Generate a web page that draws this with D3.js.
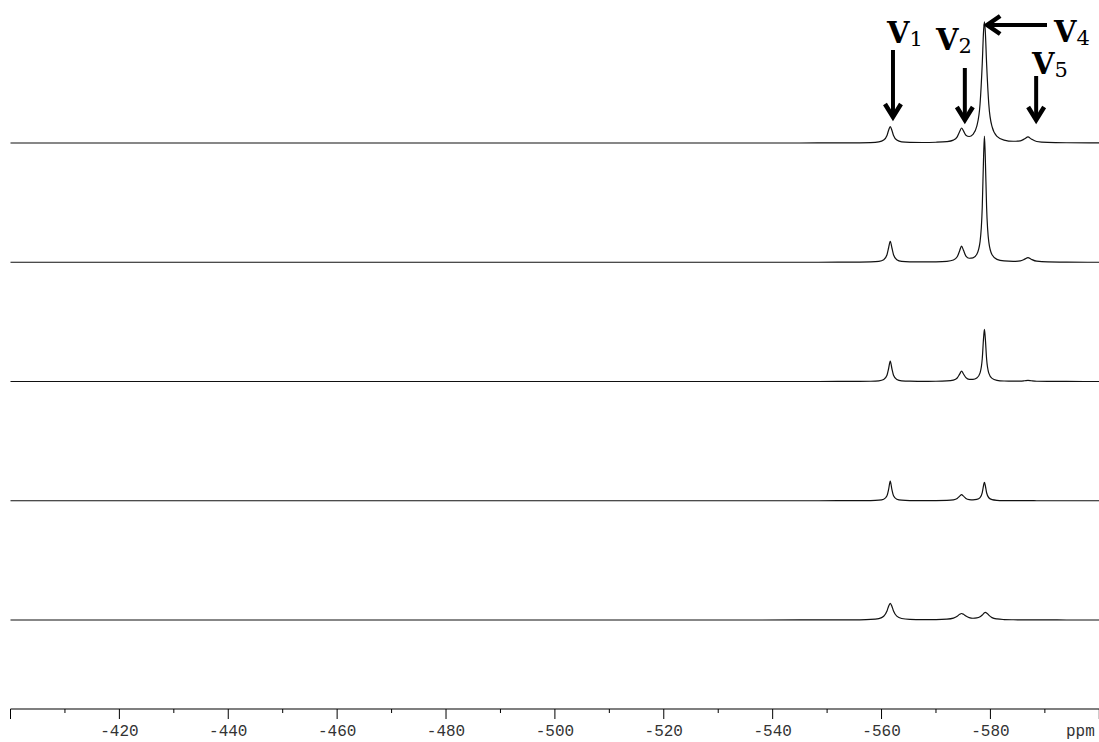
<!DOCTYPE html>
<html>
<head>
<meta charset="utf-8">
<script src="https://cdn.jsdelivr.net/npm/d3@7"></script>
<style>
    body { margin: 0; background: #fff; }
    svg { display: block; }
</style>
</head>
<body>
<svg></svg>
<script>
// chemical shift grid (ppm), shared by all spectra
const ppm = [-400, -450, -500, -530, -545, -552, -556, -558, -559.5, -560.4, -561.0, -561.3, -561.6, -561.9, -562.2, -562.8, -563.7, -565.2, -567.5, -570, -572, -573.2, -573.9, -574.35, -574.7, -575.05, -575.5, -576.1, -576.8, -577.5, -578.1, -578.5, -578.75, -578.9, -579.05, -579.3, -579.7, -580.3, -581.2, -582.5, -584.2, -585.5, -586.3, -586.9, -587.5, -588.5, -590.5, -594, -600];

// intensities, top to bottom
const spectrum1 = [0, 0, 0, 0, 0, 0.1, 0.2, 0.4, 1.1, 2.9, 7.5, 12.7, 16.5, 12.7, 7.5, 2.9, 1.1, 0.65, 0.5, 0.74, 1.4, 2.9, 6.1, 11.4, 15.0, 12.1, 7.8, 6.5, 8.7, 16.8, 39.2, 79.4, 112.9, 121.2, 112.7, 79.2, 38.9, 16.3, 6.65, 2.94, 1.73, 2.2, 4.2, 6.1, 4.0, 1.5, 0.53, 0.23, 0.1];
const spectrum2 = [0, 0, 0, 0, 0, 0.05, 0.13, 0.32, 0.92, 2.59, 7.55, 14.5, 21, 14.5, 7.55, 2.59, 0.92, 0.45, 0.33, 0.46, 0.97, 2.3, 5.5, 11.6, 16.2, 11.9, 6.2, 4.0, 4.4, 8.0, 20.7, 54.9, 106.6, 126.2, 106.4, 54.7, 20.4, 7.5, 2.9, 1.3, 0.9, 1.4, 3.1, 4.6, 3.0, 1.05, 0.3, 0.1, 0];
const spectrum3 = [0, 0, 0, 0, 0, 0.04, 0.1, 0.25, 0.71, 2.03, 6.25, 13.0, 20.3, 13.0, 6.25, 2.03, 0.71, 0.31, 0.2, 0.27, 0.56, 1.4, 3.5, 7.4, 10.4, 7.5, 3.8, 2.1, 2.05, 3.4, 8.6, 22.7, 44.1, 52.1, 43.9, 22.5, 8.4, 3.1, 1.2, 0.5, 0.3, 0.4, 0.76, 1.1, 0.73, 0.27, 0.1, 0.05, 0];
const spectrum4 = [0, 0, 0, 0, 0, 0.03, 0.08, 0.18, 0.53, 1.54, 5.0, 11.35, 19.7, 11.35, 5.0, 1.54, 0.53, 0.21, 0.13, 0.17, 0.35, 0.9, 2.25, 4.6, 6.1, 4.6, 2.35, 1.2, 0.95, 1.35, 3.1, 8.1, 15.6, 18.5, 15.5, 8.0, 3.0, 1.08, 0.42, 0.17, 0.08, 0.05, 0.04, 0.03, 0.03, 0.02, 0.01, 0, 0];
const spectrum5 = [0, 0, 0, 0, 0.03, 0.08, 0.22, 0.53, 1.46, 3.79, 9.02, 13.77, 16.7, 13.8, 9.05, 3.85, 1.52, 0.61, 0.33, 0.38, 0.8, 1.85, 3.7, 5.7, 6.5, 5.7, 3.9, 2.3, 1.77, 2.05, 3.26, 5.0, 6.43, 7.15, 7.56, 7.1, 4.87, 2.4, 1.05, 0.46, 0.23, 0.15, 0.1, 0.1, 0.08, 0.06, 0.04, 0.02, 0];

const spectra = [spectrum1, spectrum2, spectrum3, spectrum4, spectrum5];

// axis ticks (ppm)
const majorTicks = [-400, -420, -440, -460, -480, -500, -520, -540, -560, -580, -600];
const minorTicks = [-410, -430, -450, -470, -490, -510, -530, -550, -570, -590];
const labelTicks = [-420, -440, -460, -480, -500, -520, -540, -560, -580];

// peak annotations
const peakNames = ["1", "2", "4", "5"];
const peakArrowPpm = [-562.1, -575.3, -579.4, -588.4];

const width = 1099,
    height = 742;
const firstBase = 143,
    baseStep = 119.25,
    axisY = 709;

const svg = d3.select("svg").attr("width", width).attr("height", height);

const xScale = d3.scaleLinear().domain([-400, -600]).range([10.5, 1099.3]);

const drawSpectra = () => {
    spectra.forEach((values, i) => {
        const base = firstBase + i * baseStep;
        const yScale = d3.scaleLinear().domain([0, 130]).range([base, base - 130]);
        const line = d3
            .line()
            .x((d, j) => xScale(ppm[j]))
            .y((d) => yScale(d))
            .curve(d3.curveMonotoneX);
        svg.append("path")
            .datum(values)
            .attr("d", line)
            .attr("fill", "none")
            .attr("stroke", "#111")
            .attr("stroke-width", 1.2);
    });
};

const drawAxis = () => {
    const g = svg.append("g").attr("transform", `translate(0, ${axisY})`);
    g.append("line")
        .attr("x1", xScale(-400))
        .attr("x2", width)
        .attr("stroke", "#000")
        .attr("stroke-width", 1.2);

    g.selectAll(".major")
        .data(majorTicks)
        .enter()
        .append("line")
        .attr("x1", (d) => xScale(d))
        .attr("x2", (d) => xScale(d))
        .attr("y1", 0)
        .attr("y2", 10)
        .attr("stroke", "#000");

    g.selectAll(".minor")
        .data(minorTicks)
        .enter()
        .append("line")
        .attr("x1", (d) => xScale(d))
        .attr("x2", (d) => xScale(d))
        .attr("y1", 0)
        .attr("y2", 4)
        .attr("stroke", "#000");

    g.selectAll(".lbl")
        .data(labelTicks)
        .enter()
        .append("text")
        .attr("x", (d) => xScale(d))
        .attr("y", 27)
        .attr("text-anchor", "middle")
        .attr("font-family", "Liberation Mono, DejaVu Sans Mono, monospace")
        .attr("font-size", 16)
        .attr("fill", "#333")
        .text((d) => d3.format("d")(d).replace("−", "-"));

    g.append("text")
        .attr("x", 1066)
        .attr("y", 27)
        .attr("font-family", "Liberation Mono, DejaVu Sans Mono, monospace")
        .attr("font-size", 16)
        .attr("fill", "#333")
        .text("ppm");
};

const downArrow = (x, yTop, yTip) => {
    svg.append("line")
        .attr("x1", x).attr("x2", x)
        .attr("y1", yTop).attr("y2", yTip - 3)
        .attr("stroke", "#000").attr("stroke-width", 4);
    svg.append("path")
        .attr("d", `M${x - 8},${yTip - 13} L${x},${yTip} L${x + 8},${yTip - 13}`)
        .attr("fill", "none").attr("stroke", "#000").attr("stroke-width", 4.5);
};

const leftArrow = (xTip, xEnd, y) => {
    svg.append("line")
        .attr("x1", xTip + 3).attr("x2", xEnd)
        .attr("y1", y).attr("y2", y)
        .attr("stroke", "#000").attr("stroke-width", 4);
    svg.append("path")
        .attr("d", `M${xTip + 13},${y - 9} L${xTip},${y} L${xTip + 13},${y + 9}`)
        .attr("fill", "none").attr("stroke", "#000").attr("stroke-width", 4.5);
};

const peakLabel = (name, x, y) => {
    const t = svg.append("text")
        .attr("x", x)
        .attr("y", y)
        .attr("font-family", "DejaVu Serif, Liberation Serif, serif")
        .attr("font-weight", "bold")
        .attr("font-size", 29)
        .attr("fill", "#000");
    t.append("tspan").text("V");
    t.append("tspan")
        .attr("font-size", 21)
        .attr("font-weight", "normal")
        .attr("dy", 3)
        .text(name);
};

const drawAnnotations = () => {
    const ax = peakArrowPpm.map((d) => xScale(d));
    downArrow(ax[0], 50, 117);
    downArrow(ax[1], 68, 120);
    leftArrow(ax[2], 1047, 25);
    downArrow(ax[3], 76, 120);

    peakLabel(peakNames[0], 887, 43);
    peakLabel(peakNames[1], 936, 50);
    peakLabel(peakNames[2], 1054, 42);
    peakLabel(peakNames[3], 1032, 74);
};

drawSpectra();
drawAxis();
drawAnnotations();
</script>
</body>
</html>
